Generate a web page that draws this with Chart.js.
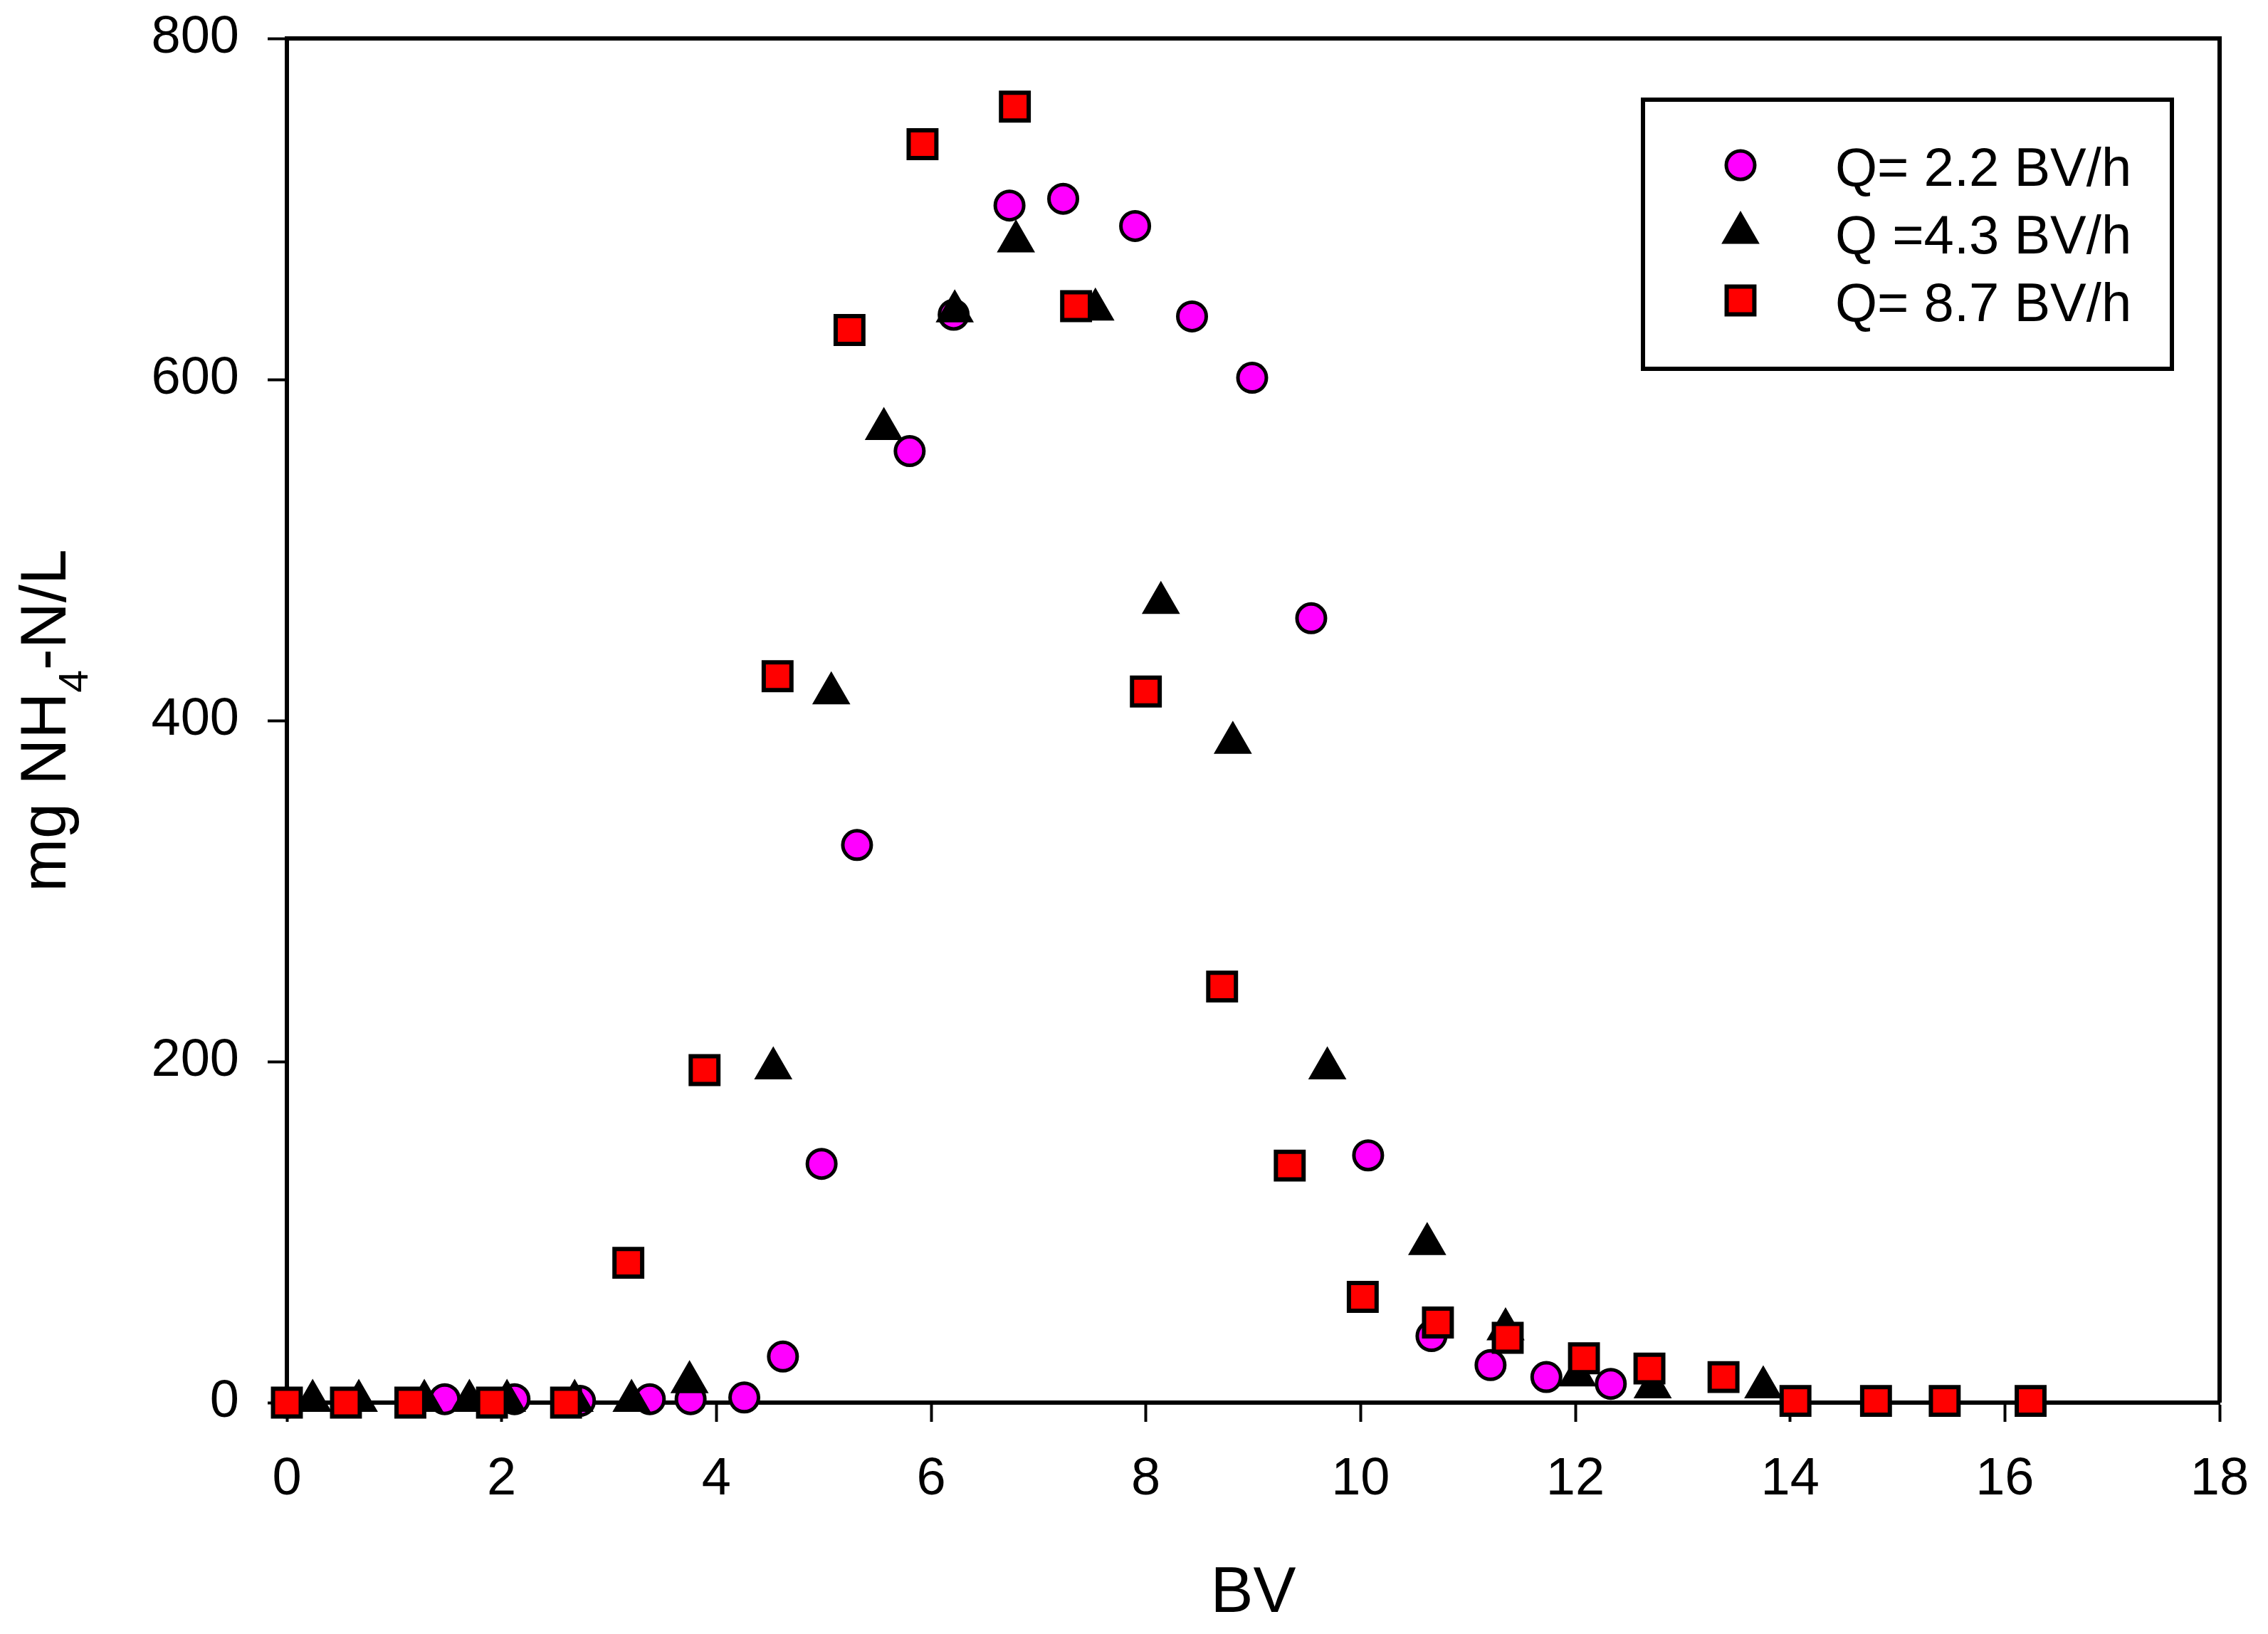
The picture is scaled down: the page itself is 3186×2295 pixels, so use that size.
<!DOCTYPE html>
<html>
<head>
<meta charset="utf-8">
<title>NH4-N breakthrough</title>
<script src="https://cdn.jsdelivr.net/npm/chart.js@4.4.1/dist/chart.umd.min.js"></script>
<style>
    html, body { margin: 0; padding: 0; background: #fff; }
    canvas { display: block; }
</style>
</head>
<body>
<canvas id="grafico" width="3186" height="2295" style="width:3186px;height:2295px"></canvas>
<script>
// Dados (BV x mg NH4-N/L)
const bv22 = [0, 1.47, 2.12, 2.73, 3.38, 3.76, 4.26, 4.62, 4.98, 5.31, 5.80, 6.21, 6.73, 7.23, 7.90, 8.43, 8.99, 9.54, 10.07, 10.66, 11.21, 11.73, 12.33];
const nh22 = [0, 2, 2, 1, 2, 2, 3, 27, 140, 327, 558, 638, 702, 706, 690, 637, 601, 460, 145, 39, 22, 15, 11];

const bv43 = [0.24, 0.67, 1.28, 1.70, 2.05, 2.68, 3.21, 3.75, 4.53, 5.07, 5.56, 6.22, 6.79, 7.53, 8.14, 8.81, 9.69, 10.62, 11.35, 12.02, 12.72, 13.75];
const nh43 = [1, 1, 1, 1, 1, 1, 1, 12, 196, 416, 571, 640, 681, 641, 469, 387, 196, 93, 43, 16, 9, 9];

const bv87 = [0, 0.55, 1.15, 1.91, 2.60, 3.18, 3.89, 4.57, 5.24, 5.92, 6.78, 7.35, 8.00, 8.71, 9.34, 10.02, 10.72, 11.37, 12.08, 12.69, 13.38, 14.05, 14.80, 15.44, 16.24];
const nh87 = [0, 0, 0, 0, 0, 82, 195, 426, 629, 738, 760, 643, 417, 244, 139, 62, 47, 38, 26, 20, 15, 1, 1, 1, 1];

const xTicks = [0, 2, 4, 6, 8, 10, 12, 14, 16, 18];
const yTicks = [0, 200, 400, 600, 800];

const FONT = "'Liberation Sans', Arial, sans-serif";

function toPoints(xs, ys) {
    return xs.map((x, i) => ({ x: x, y: ys[i] }));
}

// desenha o marcador com a mesma geometria do Chart.js
function drawMarker(ctx, style, r, x, y) {
    ctx.beginPath();
    if (style === 'circle') {
        ctx.arc(x, y, r, 0, Math.PI * 2);
    } else if (style === 'triangle') {
        let rad = 0;
        ctx.moveTo(x + Math.sin(rad) * r, y - Math.cos(rad) * r);
        rad += Math.PI * 2 / 3;
        ctx.lineTo(x + Math.sin(rad) * r, y - Math.cos(rad) * r);
        rad += Math.PI * 2 / 3;
        ctx.lineTo(x + Math.sin(rad) * r, y - Math.cos(rad) * r);
        ctx.closePath();
    } else {
        const s = Math.SQRT1_2 * r;
        ctx.rect(x - s, y - s, 2 * s, 2 * s);
    }
    ctx.fill();
    ctx.stroke();
}

// moldura de cima e da direita
const framePlugin = {
    id: 'frame',
    afterDraw(chart) {
        const { ctx, chartArea: a } = chart;
        ctx.save();
        ctx.strokeStyle = '#000';
        ctx.lineWidth = 6;
        ctx.beginPath();
        ctx.moveTo(a.left, a.top);
        ctx.lineTo(a.right, a.top);
        ctx.lineTo(a.right, a.bottom);
        ctx.stroke();
        ctx.restore();
    }
};

// título do eixo Y com subscrito
const yTitlePlugin = {
    id: 'yTitle',
    afterDraw(chart) {
        const { ctx, chartArea: a } = chart;
        const parts = [
            { t: 'mg NH', size: 90, dy: 0 },
            { t: '4', size: 57, dy: 31 },
            { t: '-N/L', size: 90, dy: 0 }
        ];
        ctx.save();
        let total = 0;
        parts.forEach(p => {
            ctx.font = p.size + 'px ' + FONT;
            p.w = ctx.measureText(p.t).width;
            total += p.w;
        });
        ctx.translate(92, (a.top + a.bottom) / 2);
        ctx.rotate(-Math.PI / 2);
        ctx.fillStyle = '#000';
        ctx.textBaseline = 'alphabetic';
        ctx.textAlign = 'left';
        let x = -total / 2;
        parts.forEach(p => {
            ctx.font = p.size + 'px ' + FONT;
            ctx.fillText(p.t, x, p.dy);
            x += p.w;
        });
        ctx.restore();
    }
};

// legenda dentro da área do gráfico
const legendPlugin = {
    id: 'boxLegend',
    afterDraw(chart) {
        const { ctx, chartArea: a } = chart;
        const left = a.right - 810, top = a.top + 86;
        const w = 743, h = 378;
        ctx.save();
        ctx.fillStyle = '#fff';
        ctx.fillRect(left, top, w, h);
        ctx.strokeStyle = '#000';
        ctx.lineWidth = 6;
        ctx.strokeRect(left, top, w, h);

        chart.data.datasets.forEach((ds, i) => {
            const cy = top + 92 + i * 95;
            ctx.fillStyle = ds.pointBackgroundColor;
            ctx.strokeStyle = ds.pointBorderColor;
            ctx.lineWidth = ds.pointBorderWidth;
            drawMarker(ctx, ds.pointStyle, ds.pointRadius, left + 137, cy);
            ctx.fillStyle = '#000';
            ctx.font = '76px ' + FONT;
            ctx.textBaseline = 'alphabetic';
            ctx.textAlign = 'left';
            ctx.fillText(ds.label, left + 270, cy + 29);
        });
        ctx.restore();
    }
};

const ctx = document.getElementById('grafico').getContext('2d');

new Chart(ctx, {
    type: 'scatter',
    data: {
        datasets: [
            {
                label: 'Q= 2.2 BV/h',
                data: toPoints(bv22, nh22),
                pointStyle: 'circle',
                pointRadius: 20,
                pointBorderWidth: 5,
                pointBackgroundColor: '#ff00ff',
                pointBorderColor: '#000',
                order: 3,
                clip: false
            },
            {
                label: 'Q =4.3 BV/h',
                data: toPoints(bv43, nh43),
                pointStyle: 'triangle',
                pointRadius: 28,
                pointBorderWidth: 3,
                pointBackgroundColor: '#000',
                pointBorderColor: '#000',
                order: 2,
                clip: false
            },
            {
                label: 'Q= 8.7 BV/h',
                data: toPoints(bv87, nh87),
                pointStyle: 'rect',
                pointRadius: 27.5,
                pointBorderWidth: 6,
                pointBackgroundColor: '#ff0000',
                pointBorderColor: '#000',
                order: 1,
                clip: false
            }
        ]
    },
    options: {
        responsive: false,
        devicePixelRatio: 1,
        animation: false,
        events: [],
        layout: { padding: { top: 54, right: 68, bottom: 0, left: 0 } },
        plugins: {
            legend: { display: false },
            tooltip: { enabled: false }
        },
        scales: {
            x: {
                type: 'linear',
                min: xTicks[0],
                max: xTicks[xTicks.length - 1],
                afterBuildTicks: (s) => { s.ticks = xTicks.map(v => ({ value: v })); },
                afterFit: (s) => {
                    s.height = 325;
                    s.paddingLeft = 0;
                    s.paddingRight = 0;
                },
                ticks: {
                    color: '#000',
                    padding: 37,
                    font: { family: FONT, size: 74 }
                },
                grid: {
                    drawOnChartArea: false,
                    color: '#000',
                    tickLength: 27,
                    tickWidth: 4
                },
                border: { color: '#000', width: 6 },
                title: {
                    display: true,
                    text: 'BV',
                    color: '#000',
                    font: { family: FONT, size: 90 },
                    padding: { top: 0, bottom: 2 }
                }
            },
            y: {
                type: 'linear',
                min: yTicks[0],
                max: yTicks[yTicks.length - 1],
                afterBuildTicks: (s) => { s.ticks = yTicks.map(v => ({ value: v })); },
                afterFit: (s) => {
                    s.width = 403;
                    s.paddingTop = 0;
                    s.paddingBottom = 0;
                },
                ticks: {
                    color: '#000',
                    padding: 40,
                    font: { family: FONT, size: 74 }
                },
                grid: {
                    drawOnChartArea: false,
                    color: '#000',
                    tickLength: 27,
                    tickWidth: 4
                },
                border: { color: '#000', width: 6 }
            }
        }
    },
    plugins: [framePlugin, yTitlePlugin, legendPlugin]
});
</script>
</body>
</html>
